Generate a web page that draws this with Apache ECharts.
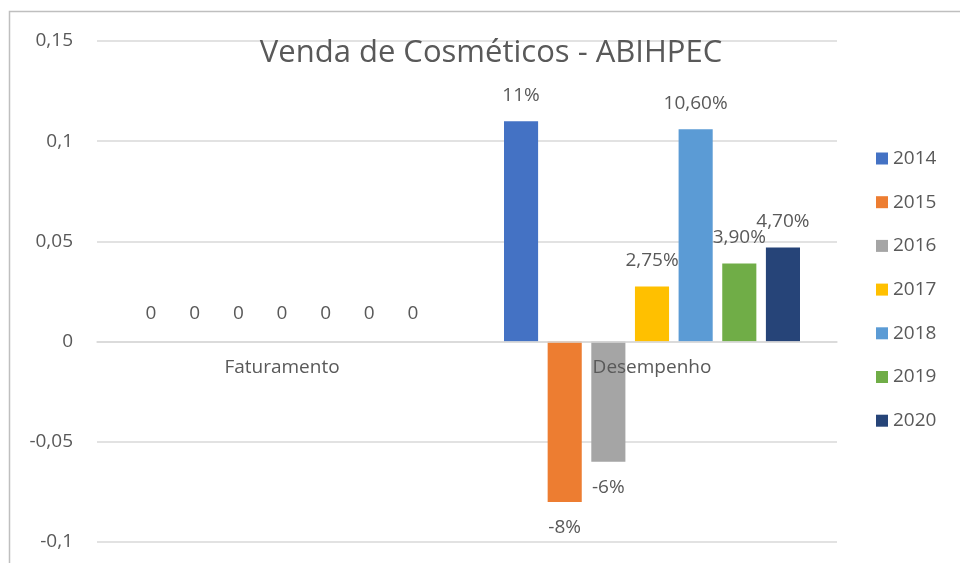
<!DOCTYPE html>
<html>
<head>
<meta charset="utf-8">
<script src="https://cdn.jsdelivr.net/npm/echarts@6/dist/echarts.min.js"></script>
<style>html,body{margin:0;padding:0;background:#fff;}#c{width:960px;height:563px;}</style>
</head>
<body>
<div id="c"></div>
<script>
const categories = ['Faturamento', 'Desempenho'];
const years = ['2014', '2015', '2016', '2017', '2018', '2019', '2020'];
const faturamento = [0, 0, 0, 0, 0, 0, 0];
const desempenho = [0.11, -0.08, -0.06, 0.0275, 0.106, 0.039, 0.047];
const faturamentoLabels = ['0', '0', '0', '0', '0', '0', '0'];
const desempenhoLabels = ['11%', '-8%', '-6%', '2,75%', '10,60%', '3,90%', '4,70%'];
const yTicks = { min: -0.1, max: 0.15, interval: 0.05 };
const colors = ['#4472C4', '#ED7D31', '#A5A5A5', '#FFC000', '#5B9BD5', '#70AD47', '#264478'];

const FONT = '"Open Sans", sans-serif';
const TXT = '#595959';
const GRID_TOP = 41, GRID_BOTTOM = 21, H = 563;
const plotH = H - GRID_TOP - GRID_BOTTOM;
const zeroOffset = plotH * (0 - yTicks.min) / (yTicks.max - yTicks.min);

const series = years.map((y, i) => ({
  name: y,
  type: 'bar',
  barGap: '28%',
  barCategoryGap: '20%',
  itemStyle: { color: colors[i] },
  label: {
    show: true,
    fontFamily: FONT,
    fontSize: 19,
    color: TXT,
    distance: 15,
    formatter: (p) => p.dataIndex === 0 ? faturamentoLabels[i] : desempenhoLabels[i]
  },
  data: [
    { value: faturamento[i], label: { position: 'top', distance: 19 } },
    { value: desempenho[i], label: { position: desempenho[i] < 0 ? 'bottom' : 'top', distance: desempenho[i] < 0 ? 16 : 16 } }
  ]
}));

const chart = echarts.init(document.getElementById('c'));
chart.setOption({
  backgroundColor: '#fff',
  animation: false,
  color: colors,
  graphic: [{
    type: 'rect',
    shape: { x: 9.5, y: 11.5, width: 1000, height: 1000 },
    style: { fill: 'none', stroke: '#bfbfbf', lineWidth: 1.5 },
    silent: true, z: -10
  }],
  title: {
    text: 'Venda de Cosméticos - ABIHPEC',
    left: 486,
    textAlign: 'center',
    top: 33,
    textStyle: { fontFamily: FONT, fontSize: 31, fontWeight: 'normal', color: TXT }
  },
  legend: {
    orient: 'vertical',
    left: 871,
    top: 144,
    itemWidth: 12,
    itemHeight: 12,
    itemGap: 24.7,
    icon: 'rect',
    data: years,
    textStyle: { fontFamily: FONT, fontSize: 19, color: TXT, lineHeight: 19 }
  },
  grid: { left: 97, right: 123, top: GRID_TOP, bottom: GRID_BOTTOM, containLabel: false, outerBoundsMode: 'none' },
  xAxis: {
    type: 'category',
    data: categories,
    z: 5,
    position: 'bottom',
    offset: -zeroOffset,
    axisLine: { onZero: false, lineStyle: { color: '#d9d9d9', width: 1.5 } },
    axisTick: { show: false },
    axisLabel: { fontFamily: FONT, fontSize: 19, color: TXT, margin: 16 }
  },
  yAxis: {
    type: 'value',
    min: yTicks.min,
    max: yTicks.max,
    interval: yTicks.interval,
    axisLine: { show: false },
    axisTick: { show: false },
    splitLine: { lineStyle: { color: '#d9d9d9', width: 1.5 } },
    axisLabel: {
      fontFamily: FONT, fontSize: 19, color: TXT, margin: 24,
      formatter: (v) => String(Math.round(v * 100) / 100).replace('.', ',')
    }
  },
  series: series
});
</script>
</body>
</html>
